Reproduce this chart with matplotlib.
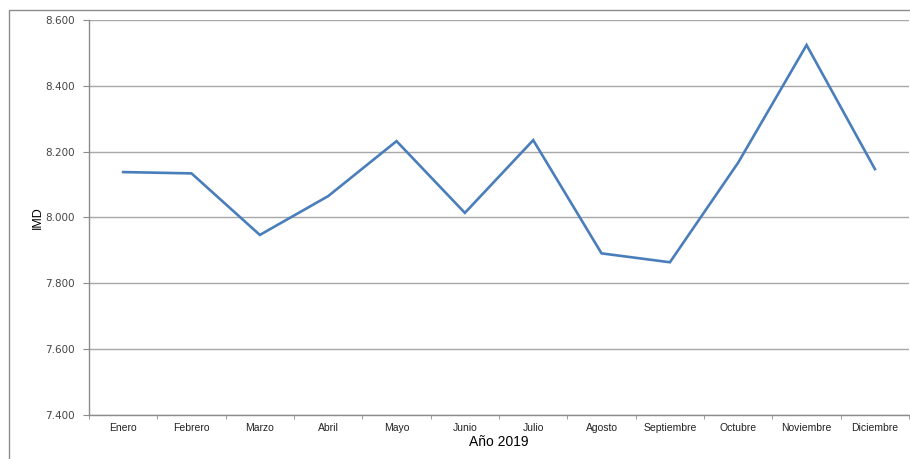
import matplotlib.pyplot as plt
from matplotlib.patches import Rectangle
from matplotlib.ticker import FuncFormatter

months = ["Enero", "Febrero", "Marzo", "Abril", "Mayo", "Junio",
          "Julio", "Agosto", "Septiembre", "Octubre", "Noviembre", "Diciembre"]
imd = [8138, 8134, 7947, 8065, 8232, 8014, 8235, 7891, 7864, 8167, 8524, 8147]
y_ticks = [7400, 7600, 7800, 8000, 8200, 8400, 8600]

fig = plt.figure(figsize=(9.1, 4.59), dpi=100)
ax = fig.add_axes([0.0978, 0.0959, 0.9012, 0.8605])

# Outer chart frame
fig.patches.append(Rectangle((9 / 910, -0.2), 1.2, 0.2 + (1 - 10 / 459),
                             transform=fig.transFigure, fill=False,
                             edgecolor="#8c8c8c", linewidth=1.0))

x = list(range(len(months)))
ax.plot(x, imd, color="#4a7ebb", linewidth=1.9, solid_joinstyle="miter")

ax.set_xlim(-0.5, len(months) - 0.5)
ax.set_ylim(7400, 8600)
ax.set_yticks(y_ticks)
ax.yaxis.set_major_formatter(FuncFormatter(lambda v, p: f"{v:,.0f}".replace(",", ".")))

ax.set_xticks(x)
ax.set_xticklabels(months, fontsize=7.5, family="Liberation Sans", color="#222222")
ax.set_xticks([i - 0.5 for i in range(len(months) + 1)], minor=True)
ax.tick_params(axis="x", which="major", length=0, pad=6)
ax.tick_params(axis="x", which="minor", length=3, color="#8c8c8c", direction="out")
ax.tick_params(axis="y", length=4, color="#8c8c8c", labelsize=7.5, pad=6,
               labelcolor="#444444")
for lbl in ax.get_yticklabels():
    lbl.set_family("DejaVu Sans")

ax.grid(axis="y", color="#a8a8a8", linewidth=1.0)
ax.set_axisbelow(True)

for side in ["top", "right"]:
    ax.spines[side].set_visible(False)
for side in ["left", "bottom"]:
    ax.spines[side].set_color("#8c8c8c")
    ax.spines[side].set_linewidth(1.0)

ax.set_xlabel("Año 2019", fontsize=10, family="Liberation Sans", labelpad=1)
ax.set_ylabel("IMD", fontsize=9, family="Liberation Sans", labelpad=1)

plt.savefig("out.png", dpi=100)
